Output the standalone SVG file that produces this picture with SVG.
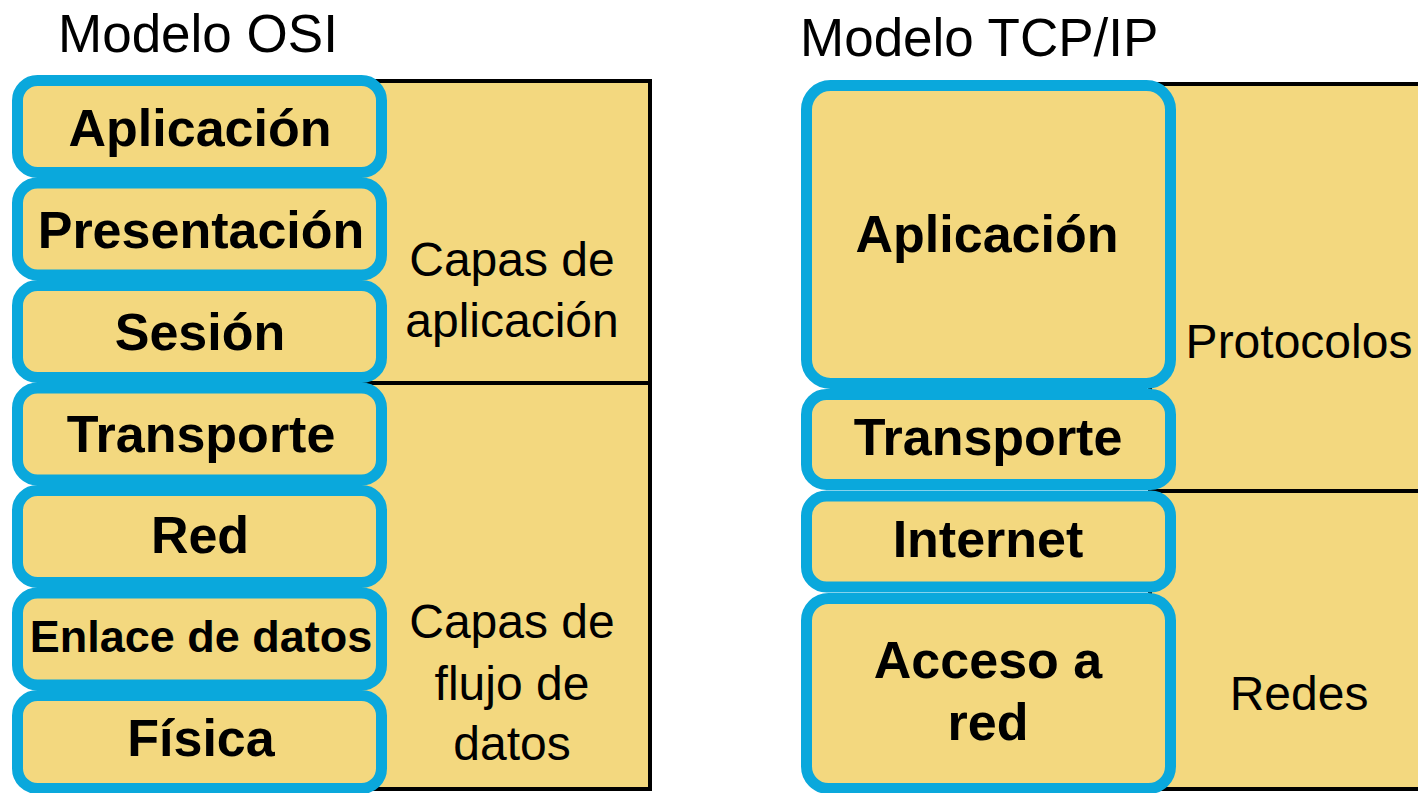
<svg xmlns="http://www.w3.org/2000/svg" width="1418" height="793" viewBox="0 0 1418 793">
<style>
.bg{fill:#F3D87F;stroke:#000;stroke-width:4}
.div{stroke:#000;stroke-width:4}
.layer{fill:#F3D87F;stroke:#0AA8DC;stroke-width:11}
.lb{font-family:"Liberation Sans",Arial,sans-serif;font-weight:bold;font-size:52px;fill:#000;text-anchor:middle}
.tx{font-family:"Liberation Sans",Arial,sans-serif;font-size:48px;fill:#000;text-anchor:middle}
.title{font-family:"Liberation Sans",Arial,sans-serif;font-size:53px;fill:#000}
</style>
<rect width="1418" height="793" fill="#fff"/>
<text class="title" x="58" y="52">Modelo OSI</text>
<text class="title" x="800" y="56">Modelo TCP/IP</text>

<g id="osi-groups">
<rect class="bg" x="360" y="81" width="290" height="708"/>
<line class="div" x1="360" y1="383" x2="650" y2="383"/>
<text class="tx" x="512" y="276">Capas de</text>
<text class="tx" x="512" y="337">aplicación</text>
<text class="tx" x="512" y="638">Capas de</text>
<text class="tx" x="512" y="700">flujo de</text>
<text class="tx" x="512" y="760">datos</text>
</g>
<g id="osi-aplicacion"><rect class="layer" x="17.5" y="80.5" width="364" height="92" rx="20"/><text class="lb" x="200" y="146">Aplicación</text></g>
<g id="osi-presentacion"><rect class="layer" x="17.5" y="183" width="364" height="92" rx="20"/><text class="lb" x="201" y="248">Presentación</text></g>
<g id="osi-sesion"><rect class="layer" x="17.5" y="285.5" width="364" height="92" rx="20"/><text class="lb" x="200" y="350">Sesión</text></g>
<g id="osi-transporte"><rect class="layer" x="17.5" y="388" width="364" height="92" rx="20"/><text class="lb" x="201" y="452">Transporte</text></g>
<g id="osi-red"><rect class="layer" x="17.5" y="490.5" width="364" height="92" rx="20"/><text class="lb" x="200" y="553">Red</text></g>
<g id="osi-enlace"><rect class="layer" x="17.5" y="593" width="364" height="92" rx="20"/><text class="lb" x="201" y="652" style="font-size:45px">Enlace de datos</text></g>
<g id="osi-fisica"><rect class="layer" x="17.5" y="695.5" width="364" height="93" rx="20"/><text class="lb" x="201" y="756">Física</text></g>

<g id="tcp-groups">
<rect class="bg" x="1150" y="84" width="300" height="705"/>
<line class="div" x1="1150" y1="491" x2="1418" y2="491"/>
<text class="tx" x="1299" y="358">Protocolos</text>
<text class="tx" x="1299" y="710">Redes</text>
</g>
<g id="tcp-aplicacion"><rect class="layer" x="806.5" y="85.5" width="364" height="298" rx="24"/><text class="lb" x="987" y="252">Aplicación</text></g>
<g id="tcp-transporte"><rect class="layer" x="806.5" y="394.5" width="364" height="90" rx="20"/><text class="lb" x="988" y="455">Transporte</text></g>
<g id="tcp-internet"><rect class="layer" x="806.5" y="496" width="364" height="91" rx="20"/><text class="lb" x="988" y="557">Internet</text></g>
<g id="tcp-acceso"><rect class="layer" x="806.5" y="598.5" width="364" height="190" rx="22"/><text class="lb" x="988" y="678">Acceso a</text><text class="lb" x="988" y="740">red</text></g>
<g id="connectors"/>
</svg>
